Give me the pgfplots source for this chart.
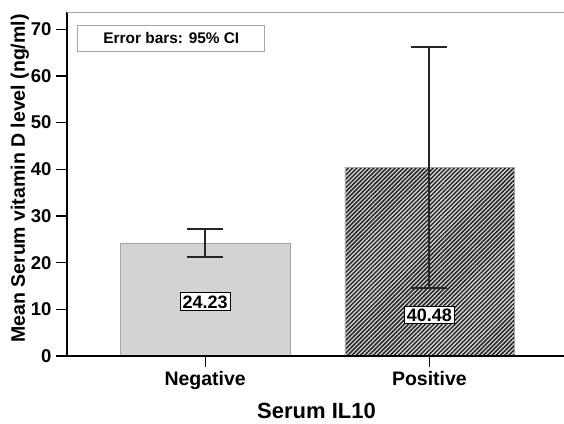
\documentclass[border=0pt]{standalone}
\usepackage{fontspec}
\setmainfont{Liberation Sans}
\usepackage{pgfplots}
\pgfplotsset{compat=1.18}
\usetikzlibrary{patterns.meta,calc}
\begin{document}
\begin{tikzpicture}
\begin{axis}[
  name=ax,
  scale only axis,
  width=497pt, height=344pt,
  xmin=-0.616, xmax=1.60,
  ymin=0, ymax=73.7,
  axis line style={draw=none},
  ytick={0,10,...,70},
  xtick={0,1},
  xticklabels={Negative,Positive},
  tick align=outside,
  xtick pos=bottom, ytick pos=left,
  major tick length=11pt,
  ytick style={black, line width=1.2pt},
  xtick style={black, line width=0.8pt},
  /pgf/number format/assume math mode=true,
  yticklabel style={font=\fontsize{18.5}{20}\selectfont\bfseries, xshift=-1pt},
  xticklabel style={font=\fontsize{19.5}{22}\selectfont\bfseries, yshift=-1pt},
  ylabel={Mean Serum vitamin D level (ng/ml)},
  ylabel style={font=\fontsize{19.5}{22}\selectfont\bfseries, at={(axis description cs:-0.0946,0.516)}, anchor=center},
  xlabel={Serum IL10},
  xlabel style={font=\fontsize{22}{24}\selectfont\bfseries, at={(axis description cs:0.502,0)}, anchor=center, yshift=-55pt},
  ybar, bar width=0.755, bar shift=0pt,
  clip=false,
]
\addplot[draw=gray!70, fill=black!16,
  postaction={pattern={Dots[distance=2pt,radius=0.45pt]}, pattern color=gray!60},
  error bars/.cd, y dir=both, y explicit,
  error bar style={line width=2pt, black!85},
  error mark options={line width=2pt, black!85, mark size=18pt, rotate=90}]
  coordinates {(0,24.23) +- (0,2.97) -= (0,3.03)};
\addplot[draw=gray!70, fill=gray!30,
  postaction={pattern={Lines[angle=45,distance=3pt,line width=1.5pt]}, pattern color=black!85},
  error bars/.cd, y dir=both, y explicit,
  error bar style={line width=2pt, black!85},
  error mark options={line width=2pt, black!85, mark size=18pt, rotate=90}]
  coordinates {(1,40.48) +- (0,25.72) -= (0,25.88)};
\node[draw=black, line width=1pt, fill=white, inner sep=2.5pt, font=\fontsize{18}{20}\selectfont\bfseries] at (axis cs:0,11.6) {24.23};
\node[draw=black, line width=1pt, fill=white, inner sep=2.5pt, font=\fontsize{18}{20}\selectfont\bfseries] at (axis cs:1,8.8) {40.48};
\node[draw=gray!70, line width=0.8pt, minimum width=187pt, minimum height=26pt, font=\fontsize{15.4}{17}\selectfont\bfseries] at (axis description cs:0.210,0.924) {Error bars: 95\% CI};
\draw[line width=2.8pt] (axis description cs:0,0) -- (axis description cs:1,0);
\draw[line width=2.8pt] (axis description cs:0,0) -- (axis description cs:0,1);
\draw[line width=1pt, gray!70] (axis description cs:0,1) -- (axis description cs:1,1);
\end{axis}
\pgfresetboundingbox
\path[use as bounding box] ($(ax.south west)+(-67pt,-67pt)$) rectangle ($(ax.north east)+(0pt,12pt)$);
\end{tikzpicture}
\end{document}
